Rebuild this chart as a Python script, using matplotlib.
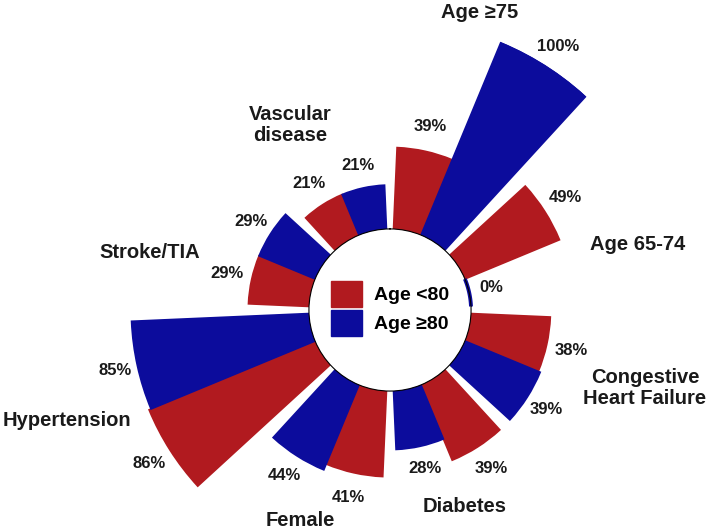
import numpy as np
import matplotlib
matplotlib.use("Agg")
import matplotlib.pyplot as plt
from matplotlib.patches import Patch

plt.rcParams['font.family'] = ['Liberation Sans', 'DejaVu Sans']

categories = ["Age \u226575", "Age 65-74", "Congestive\nHeart Failure", "Diabetes",
              "Female", "Hypertension", "Stroke/TIA", "Vascular\ndisease"]
under80 = [39, 49, 38, 39, 41, 86, 29, 21]
over80 = [100, 0, 39, 28, 44, 85, 29, 21]
series_names = ["Age <80", "Age \u226580"]

RED = "#B11A1F"
BLUE = "#0C0C9C"

W, H = 709, 530
fig = plt.figure(figsize=(W / 100, H / 100), dpi=100)

# polar axes centred at pixel (390, 310), outer radius 290 px
cx, cy, R = 390, 310, 290
ax = fig.add_axes([(cx - R) / W, 1 - (cy + R) / H, 2 * R / W, 2 * R / H], projection='polar')
ax.set_theta_zero_location('N')
ax.set_theta_direction(-1)
ax.set_ylim(0, 100)
ax.set_rorigin(-38.8)
ax.grid(False)
ax.set_xticks([])
ax.set_yticks([])
ax.spines['polar'].set_visible(False)
ax.patch.set_alpha(0)

n = len(categories)
slot = 2 * np.pi / n
gap = np.deg2rad(5)
bw = (slot - gap) / 2
starts = np.arange(n) * slot + gap / 2
th_red = starts + bw / 2
th_blue = starts + bw + bw / 2

for th, vals, col in ((th_red, under80, RED), (th_blue, over80, BLUE)):
    ax.bar(th, vals, width=bw, bottom=0, color=col, edgecolor=col, linewidth=1.2)
    # zero-valued bars are shown as a thin arc on the inner ring
    for t, v in zip(th, vals):
        if v == 0:
            arc = np.linspace(t - bw / 2, t + bw / 2, 60)
            ax.plot(arc, np.full_like(arc, v), color=col, linewidth=2.8,
                    solid_capstyle='butt', clip_on=False)

for t, v in zip(th_red, under80):
    ax.text(t, v + 12, f"{v}%", ha='center', va='center', fontsize=12, fontweight='bold', color='#1a1a1a')
for t, v in zip(th_blue, over80):
    ax.text(t, v + 11, f"{v}%", ha='center', va='center', fontsize=12, fontweight='bold', color='#1a1a1a')

# category label positions (pixel centres)
label_px = [(480, 13), (638, 245), (645, 388), (465, 507),
            (300, 521), (67, 420), (150, 253), (290, 125)]
for name, (px, py) in zip(categories, label_px):
    fig.text(px / W, 1 - py / H, name, ha='center', va='center', fontsize=14.5,
             fontweight='bold', color='#1a1a1a', linespacing=1.1)

handles = [Patch(facecolor=RED, edgecolor=RED), Patch(facecolor=BLUE, edgecolor=BLUE)]
fig.legend(handles, series_names, loc='upper left', bbox_to_anchor=(331 / W, 1 - 281 / H),
           frameon=False, borderpad=0, borderaxespad=0, handlelength=1.6, handleheight=1.7,
           handletextpad=0.6, labelspacing=0.12,
           prop={'size': 14, 'weight': 'bold'})

fig.savefig("out.png", dpi=100)
